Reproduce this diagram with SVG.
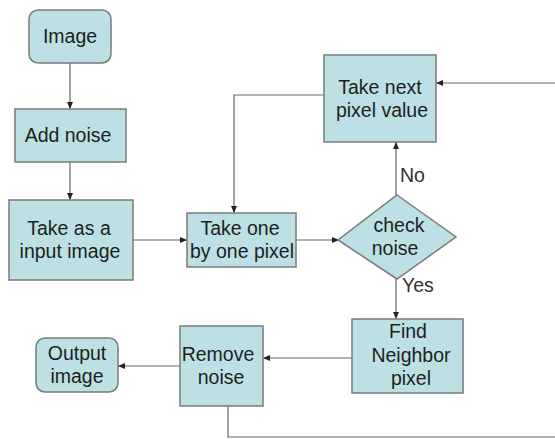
<svg xmlns="http://www.w3.org/2000/svg" width="555" height="439" viewBox="0 0 555 439">
<style>
.box{fill:#bce0e3;stroke:#7a7a7a;stroke-width:1.5}
.t{font-family:"Liberation Sans",Arial,sans-serif;font-size:19.5px;fill:#1e1e1e;text-anchor:middle}
.lbl{font-family:"Liberation Sans",Arial,sans-serif;font-size:19.5px;fill:#333}
.c{fill:none;stroke:#666;stroke-width:1.2}
</style>
<defs>
<marker id="ah" markerWidth="7" markerHeight="6" refX="7" refY="3" orient="auto" markerUnits="userSpaceOnUse">
<path d="M0,0 L7,3 L0,6 z" fill="#222"/>
</marker>
</defs>
<rect width="555" height="439" fill="#fff"/>
<g id="connectors">
<line class="c" x1="70" y1="63" x2="70" y2="109" marker-end="url(#ah)"/>
<line class="c" x1="70" y1="162" x2="70" y2="200" marker-end="url(#ah)"/>
<line class="c" x1="133" y1="240" x2="187" y2="240" marker-end="url(#ah)"/>
<polyline class="c" points="324,95 234,95 234,213" marker-end="url(#ah)"/>
<line class="c" x1="296" y1="240" x2="339" y2="240" marker-end="url(#ah)"/>
<line class="c" x1="396" y1="195" x2="396" y2="142" marker-end="url(#ah)"/>
<line class="c" x1="396" y1="279" x2="396" y2="319" marker-end="url(#ah)"/>
<line class="c" x1="352" y1="358" x2="263" y2="358" marker-end="url(#ah)"/>
<line class="c" x1="180" y1="366" x2="118" y2="366" marker-end="url(#ah)"/>
<polyline class="c" points="228,406 228,437 556,437"/>
<line class="c" x1="556" y1="83" x2="436" y2="83" marker-end="url(#ah)"/>
<text class="lbl" x="400" y="182">No</text>
<text class="lbl" x="402" y="292">Yes</text>
</g>
<g id="image">
<rect class="box" x="29" y="10" width="82" height="53" rx="9"/>
<text class="t" x="70" y="43">Image</text>
</g>
<g id="add-noise">
<rect class="box" x="15" y="109" width="111" height="53"/>
<text class="t" x="68" y="142">Add noise</text>
</g>
<g id="take-input">
<rect class="box" x="9" y="200" width="124" height="80"/>
<text class="t" x="69" y="235">Take as a</text>
<text class="t" x="70" y="258">input image</text>
</g>
<g id="take-one">
<rect class="box" x="187" y="213" width="109" height="54"/>
<text class="t" x="240" y="235">Take one</text>
<text class="t" x="242" y="258">by one pixel</text>
</g>
<g id="take-next">
<rect class="box" x="324" y="55" width="112" height="87"/>
<text class="t" x="380" y="94">Take next</text>
<text class="t" x="382" y="117">pixel value</text>
</g>
<g id="check-noise">
<polygon class="box" points="397,195 456,237 397,279 338,240"/>
<text class="t" x="399" y="232">check</text>
<text class="t" x="395" y="255">noise</text>
</g>
<g id="find-neighbor">
<rect class="box" x="352" y="319" width="111" height="74"/>
<text class="t" x="408" y="338">Find</text>
<text class="t" x="411" y="362">Neighbor</text>
<text class="t" x="411" y="385">pixel</text>
</g>
<g id="remove-noise">
<rect class="box" x="180" y="326" width="83" height="80"/>
<text class="t" x="218" y="361">Remove</text>
<text class="t" x="221" y="384">noise</text>
</g>
<g id="output-image">
<rect class="box" x="36" y="338" width="82" height="54" rx="9"/>
<text class="t" x="77" y="360">Output</text>
<text class="t" x="77" y="383">image</text>
</g>
</svg>
